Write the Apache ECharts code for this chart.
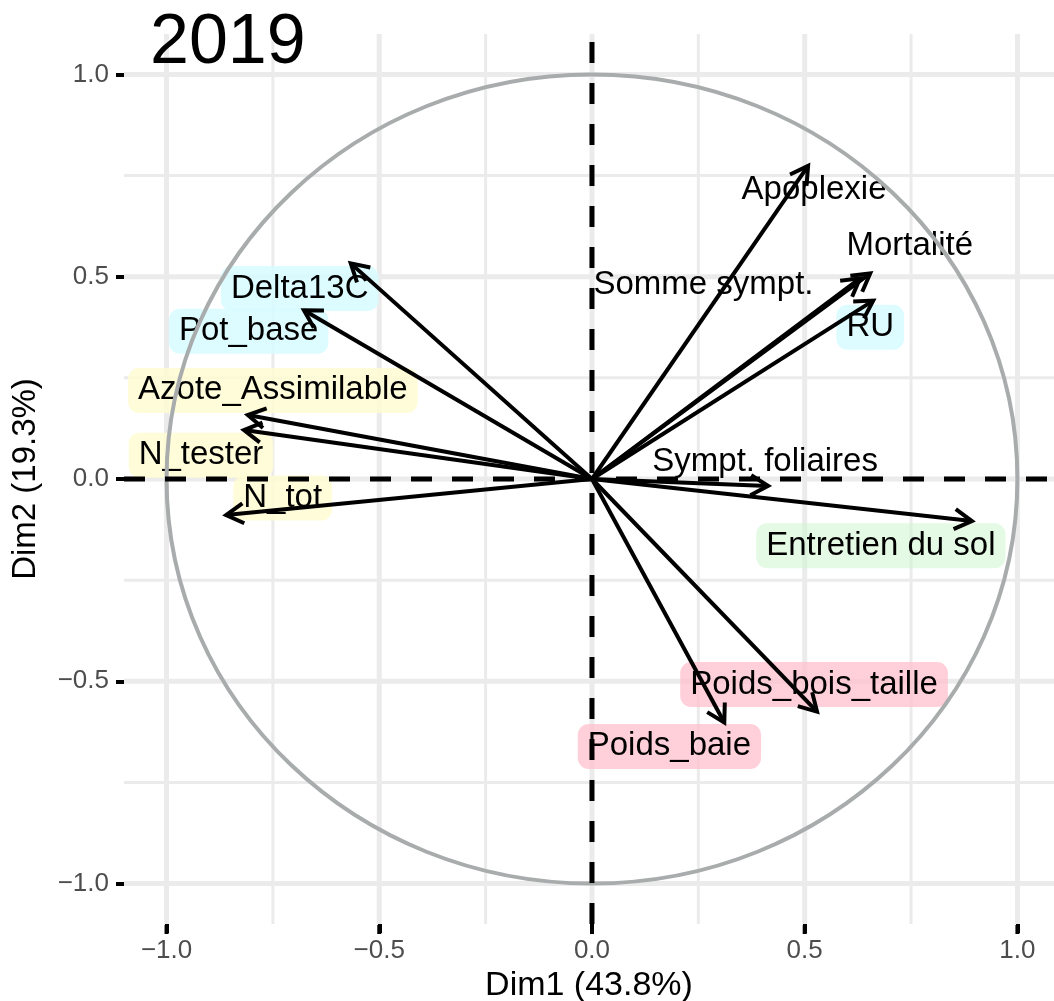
<!DOCTYPE html>
<html>
<head>
<meta charset="utf-8">
<title>ACP 2019</title>
<script src="https://cdn.jsdelivr.net/npm/echarts@6/dist/echarts.min.js"></script>
<style>html,body{margin:0;padding:0;background:#fff}</style>
</head>
<body>
<div id="container" style="width:1054px;height:1001px"></div>
<script type="text/javascript">
    // variables of the correlation circle
    var varNames = ['Apoplexie', 'Mortalité', 'Somme sympt.', 'RU', 'Sympt. foliaires', 'Entretien du sol',
        'Poids_bois_taille', 'Poids_baie', 'Delta13C', 'Pot_base', 'Azote_Assimilable', 'N_tester', 'N_tot'];
    var dim1 = [0.508, 0.654, 0.630, 0.661, 0.414, 0.893, 0.529, 0.311, -0.567, -0.677, -0.809, -0.818, -0.860];
    var dim2 = [0.774, 0.508, 0.496, 0.441, -0.017, -0.104, -0.575, -0.602, 0.533, 0.417, 0.158, 0.121, -0.089];
    // where the (repelled) labels sit
    var labelX = [0.522, 0.747, 0.262, 0.654, 0.407, 0.679, 0.522, 0.182, -0.687, -0.807, -0.750, -0.919, -0.727];
    var labelY = [0.715, 0.577, 0.481, 0.375, 0.042, -0.165, -0.508, -0.661, 0.471, 0.365, 0.219, 0.059, -0.047];
    var groups = ['none', 'none', 'none', 'sol', 'none', 'entretien', 'rdt', 'rdt', 'sol', 'sol', 'azote', 'azote', 'azote'];
    var tickValues = [-1, -0.5, 0, 0.5, 1];
    var minorValues = [-0.75, -0.25, 0.25, 0.75];
    var titleText = '2019';
    var xName = 'Dim1 (43.8%)';
    var yName = 'Dim2 (19.3%)';

    var FONT = '"Liberation Sans", Arial, sans-serif';
    var LIM = 1.1;      // y range and left x limit
    var XMAX = 1.086;   // the panel is cut by the right edge of the picture
    var groupColors = {
        none: null,
        sol: 'rgba(215,252,255,0.85)',
        entretien: 'rgba(205,245,205,0.55)',
        rdt: 'rgba(255,192,206,0.75)',
        azote: 'rgba(255,252,210,0.85)'
    };

    function fmt(v) {
        return (v < 0 ? '\u2212' : '') + Math.abs(v).toFixed(1);
    }

    // grid lines: [value, major(1/0), direction(0 = vertical, 1 = horizontal)]
    var gridData = [];
    tickValues.forEach(function (v) { gridData.push([v, 1, 0]); gridData.push([v, 1, 1]); });
    minorValues.forEach(function (v) { gridData.push([v, 0, 0]); gridData.push([v, 0, 1]); });

    var arrowData = dim1.map(function (x, i) { return [x, dim2[i]]; });
    var labelData = labelX.map(function (x, i) { return [x, labelY[i]]; });

    function renderGrid(params, api) {
        var v = api.value(0), major = api.value(1), dir = api.value(2);
        var p1, p2;
        if (dir === 0) { p1 = api.coord([v, -LIM]); p2 = api.coord([v, LIM]); }
        else { p1 = api.coord([-LIM, v]); p2 = api.coord([XMAX, v]); }
        return {
            type: 'line', silent: true,
            shape: {x1: p1[0], y1: p1[1], x2: p2[0], y2: p2[1]},
            style: {stroke: '#EBEBEB', lineWidth: major ? 5 : 3}
        };
    }

    function renderCircle(params, api) {
        var c = api.coord([0, 0]);
        var s = api.size([1, 1]);
        return {
            type: 'ellipse', silent: true,
            shape: {cx: c[0], cy: c[1], rx: s[0], ry: s[1]},
            style: {fill: null, stroke: '#A9ACAC', lineWidth: 4}
        };
    }

    function renderZero(params, api) {
        var dir = api.value(2);
        var p1, p2;
        if (dir === 0) { p1 = api.coord([0, -LIM]); p2 = api.coord([0, LIM]); }
        else { p1 = api.coord([-LIM, 0]); p2 = api.coord([XMAX, 0]); }
        return {
            type: 'line', silent: true,
            shape: {x1: p1[0], y1: p1[1], x2: p2[0], y2: p2[1]},
            style: {stroke: '#000', lineWidth: 5, lineDash: [21, 20]}
        };
    }

    function renderArrow(params, api) {
        var o = api.coord([0, 0]);
        var t = api.coord([api.value(0), api.value(1)]);
        var ang = Math.atan2(t[1] - o[1], t[0] - o[0]);
        var L = 20, a = Math.PI / 6;
        var w1 = [t[0] - L * Math.cos(ang - a), t[1] - L * Math.sin(ang - a)];
        var w2 = [t[0] - L * Math.cos(ang + a), t[1] - L * Math.sin(ang + a)];
        var st = {stroke: '#000', lineWidth: 4, fill: null, lineJoin: 'miter', lineCap: 'butt'};
        return {
            type: 'group', silent: true,
            children: [
                {type: 'line', shape: {x1: o[0], y1: o[1], x2: t[0], y2: t[1]}, style: st},
                {type: 'polyline', shape: {points: [w1, t, w2]}, style: st}
            ]
        };
    }

    function renderLabel(params, api) {
        var p = api.coord([api.value(0), api.value(1)]);
        var bg = groupColors[groups[params.dataIndex]];
        var style = {
            text: varNames[params.dataIndex],
            x: p[0], y: p[1],
            fill: '#000',
            font: '33px ' + FONT,
            align: 'center',
            verticalAlign: 'middle',
            padding: [7, 10, 5, 10],
            borderRadius: 11
        };
        if (bg) { style.backgroundColor = bg; }
        return {type: 'text', silent: true, style: style};
    }

    var dom = document.getElementById('container');
    var myChart = echarts.init(dom);
    var option = {
        animation: false,
        backgroundColor: '#fff',
        title: {
            text: titleText,
            left: 145,
            top: 4,
            textStyle: {fontSize: 70, fontWeight: 'normal', color: '#000', fontFamily: FONT}
        },
        grid: {left: 124, top: 34, width: 930, height: 890, outerBoundsMode: 'none'},
        xAxis: {
            type: 'value', min: -LIM, max: XMAX, position: 'bottom',
            axisLine: {show: true, onZero: false, lineStyle: {color: 'rgba(255,255,255,0)', width: 1}},
            splitLine: {show: false},
            axisTick: {show: true, inside: false, customValues: tickValues, length: 9, lineStyle: {color: '#000', width: 4}},
            axisLabel: {customValues: tickValues, formatter: fmt, color: '#4D4D4D', fontSize: 26, margin: 14, fontFamily: FONT},
            name: xName, nameLocation: 'middle', nameGap: 42,
            nameTextStyle: {color: '#000', fontSize: 34, fontFamily: FONT}
        },
        yAxis: {
            type: 'value', min: -LIM, max: LIM, position: 'left',
            axisLine: {show: true, onZero: false, lineStyle: {color: 'rgba(255,255,255,0)', width: 1}},
            splitLine: {show: false},
            axisTick: {show: true, inside: false, customValues: tickValues, length: 8, lineStyle: {color: '#000', width: 4}},
            axisLabel: {customValues: tickValues, formatter: fmt, color: '#4D4D4D', fontSize: 26, margin: 15, fontFamily: FONT},
            name: yName, nameLocation: 'middle', nameGap: 82,
            nameTextStyle: {color: '#000', fontSize: 33, fontFamily: FONT}
        },
        series: [
            {type: 'custom', name: 'grid', z: 1, renderItem: renderGrid, data: gridData},
            {type: 'custom', name: 'labels', z: 2, renderItem: renderLabel, data: labelData},
            {type: 'custom', name: 'circle', z: 3, renderItem: renderCircle, data: [[0, 0]]},
            {type: 'custom', name: 'zero', z: 4, renderItem: renderZero, data: [[0, 0, 0], [0, 0, 1]]},
            {type: 'custom', name: 'arrows', z: 5, renderItem: renderArrow, data: arrowData}
        ]
    };
    myChart.setOption(option, true);

    // x tick marks under the panel, placed through the axis scale, on their own layer
    var tickMarks = tickValues.map(function (v) {
        var p = myChart.convertToPixel({gridIndex: 0}, [v, -LIM]);
        return {
            type: 'rect', zlevel: 1, z: 100, silent: true,
            shape: {x: p[0] - 2, y: p[1] + 1, width: 4, height: 9},
            style: {fill: '#000'}
        };
    });
    myChart.setOption({graphic: {elements: tickMarks}});
</script>
</body>
</html>
